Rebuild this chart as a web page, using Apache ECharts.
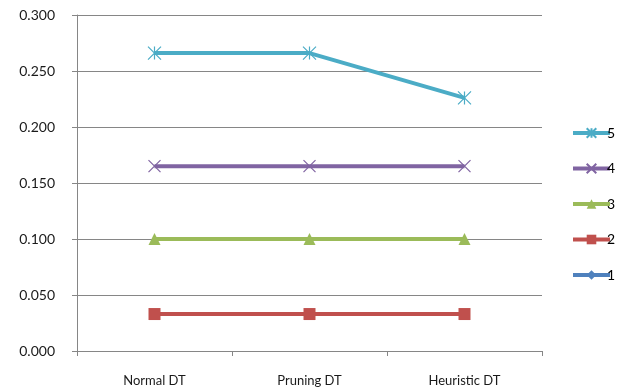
<!DOCTYPE html>
<html><head><meta charset="utf-8">
<script src="https://cdn.jsdelivr.net/npm/echarts@6/dist/echarts.min.js"></script>
<style>html,body{margin:0;padding:0;background:#fff}#c{width:624px;height:391px}</style>
</head><body><div id="c"></div>
<script>
const categories = ['Normal DT', 'Pruning DT', 'Heuristic DT'];
const seriesNames = ['1', '2', '3', '4', '5'];
const s1 = [null, null, null];
const s2 = [0.033, 0.033, 0.033];
const s3 = [0.100, 0.100, 0.100];
const s4 = [0.165, 0.165, 0.165];
const s5 = [0.266, 0.266, 0.226];
const yTicks = { min: 0, max: 0.3, interval: 0.05 };

const colors = ['#4F81BD', '#C0504D', '#9BBB59', '#8064A2', '#4BACC6'];
const asterisk = 'path://M0,0L10,10M10,0L0,10M5,0L5,10';
const cross = 'path://M0,0L10,10M10,0L0,10';
const symbols = ['diamond', 'rect', 'triangle', cross, asterisk];
const sizes = [9, 12, 12, 12, 13];
const data = [s1, s2, s3, s4, s5];

const chart = echarts.init(document.getElementById('c'));
const font = 'Lato, "Open Sans", sans-serif';
chart.setOption({
  animation: false,
  textStyle: { fontFamily: font },
  grid: { left: 77, right: 82, top: 15, bottom: 40 },
  legend: {
    orient: 'vertical', left: 566, top: 121, itemGap: 21.5,
    itemWidth: 37, itemHeight: 12,
    data: ['5', '4', '3', '2', '1'],
    lineStyle: { width: 4 },
    textStyle: { fontSize: 14, color: '#000', padding: [0, 0, 0, -8], fontFamily: font }
  },
  xAxis: {
    type: 'category', data: categories, boundaryGap: true,
    axisLine: { lineStyle: { color: '#868686' } },
    axisTick: { show: true, length: 5, lineStyle: { color: '#868686' } },
    axisLabel: { color: '#1a1a1a', fontSize: 13, margin: 23, fontFamily: font }
  },
  yAxis: {
    type: 'value', min: yTicks.min, max: yTicks.max, interval: yTicks.interval,
    axisLine: { show: true, lineStyle: { color: '#868686' } },
    axisTick: { show: true, length: 5, lineStyle: { color: '#868686' } },
    splitLine: { lineStyle: { color: '#868686' } },
    axisLabel: { color: '#1a1a1a', fontSize: 14, margin: 22, formatter: v => v.toFixed(3), fontFamily: font }
  },
  series: seriesNames.map((n, i) => ({
    name: n, type: 'line', data: data[i],
    symbol: symbols[i], symbolSize: sizes[i], showSymbol: true,
    lineStyle: { width: 4, color: colors[i] },
    itemStyle: { color: colors[i], borderColor: colors[i], borderWidth: (i >= 3) ? 1.2 : 0 },
    z: 2 + i
  }))
});
</script></body></html>
